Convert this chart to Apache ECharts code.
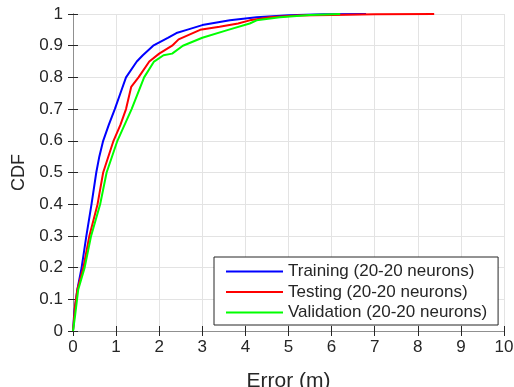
<!DOCTYPE html>
<html>
<head>
<meta charset="utf-8">
<script src="https://cdn.jsdelivr.net/npm/echarts@6/dist/echarts.min.js"></script>
<style>
  html, body { margin: 0; padding: 0; background: #fff; }
  #chart { width: 514px; height: 387px; }
</style>
</head>
<body>
<div id="chart"></div>
<script>
// error (m) / CDF pairs
const trainErr = [0, 0.03, 0.1, 0.2, 0.31, 0.43, 0.54, 0.61, 0.7, 0.83, 0.97, 1.1, 1.23, 1.48, 1.62, 1.86, 2.2, 2.4, 2.64, 3.0, 3.64, 4.26, 5.0, 5.8, 6.8];
const trainCdf = [0, 0.06, 0.13, 0.2, 0.3, 0.4, 0.5, 0.55, 0.6, 0.65, 0.7, 0.75, 0.8, 0.85, 0.87, 0.9, 0.925, 0.94, 0.95, 0.965, 0.98, 0.99, 0.996, 0.999, 1];

const testErr = [0, 0.05, 0.1, 0.24, 0.38, 0.57, 0.7, 0.94, 1.1, 1.23, 1.35, 1.52, 1.77, 2.0, 2.3, 2.45, 2.95, 3.4, 3.83, 4.1, 4.57, 5.2, 6.0, 7.0, 8.38];
const testCdf = [0, 0.08, 0.13, 0.2, 0.3, 0.4, 0.5, 0.6, 0.65, 0.7, 0.77, 0.8, 0.85, 0.875, 0.9, 0.92, 0.95, 0.96, 0.97, 0.98, 0.99, 0.995, 0.997, 0.999, 1];

const valErr = [0, 0.05, 0.12, 0.27, 0.42, 0.63, 0.78, 1.03, 1.36, 1.65, 1.88, 2.1, 2.3, 2.55, 3.0, 3.6, 4.1, 4.26, 4.8, 5.5, 6.2];
const valCdf = [0, 0.05, 0.13, 0.2, 0.3, 0.4, 0.5, 0.6, 0.7, 0.8, 0.85, 0.87, 0.875, 0.9, 0.925, 0.95, 0.97, 0.98, 0.99, 0.997, 1];

const seriesNames = ['Training (20-20 neurons)', 'Testing (20-20 neurons)', 'Validation (20-20 neurons)'];
const seriesColors = ['#0000ff', '#ff0000', '#00ff00'];

const zip = (xs, ys) => xs.map((x, i) => [x, ys[i]]);

const FONT = 'Liberation Sans, Arial, sans-serif';
const TXT = '#262626';

const chart = echarts.init(document.getElementById('chart'));

const mkLine = (name, color, data) => ({
    name: name,
    type: 'line',
    data: data,
    showSymbol: false,
    symbol: 'none',
    lineStyle: { color: color, width: 2 },
    itemStyle: { color: color },
    animation: false
});

const option = {
    animation: false,
    grid: { left: 73, right: 10, top: 14, bottom: 56, containLabel: false, outerBoundsMode: 'none' },
    legend: {
        orient: 'vertical',
        left: 214,
        top: 257,
        padding: [6, 11, 4, 12],
        itemWidth: 57,
        itemHeight: 2,
        itemGap: 3.5,
        icon: 'rect',
        backgroundColor: '#fff',
        borderColor: '#262626',
        borderWidth: 1,
        textStyle: { fontFamily: FONT, fontSize: 17, color: TXT, lineHeight: 17 },
        data: seriesNames
    },
    xAxis: [
        {
            type: 'value',
            min: 0, max: 10, interval: 1,
            name: 'Error (m)',
            nameLocation: 'middle',
            nameGap: 40,
            nameTextStyle: { fontFamily: FONT, fontSize: 21, color: TXT },
            axisLine: { lineStyle: { color: '#404040' } },
            axisTick: { inside: true, length: 5, lineStyle: { color: '#262626' } },
            axisLabel: { fontFamily: FONT, fontSize: 17, color: TXT, margin: 8 },
            splitLine: { lineStyle: { color: '#e3e3e3' } }
        },
        {
            type: 'value',
            position: 'top',
            min: 0, max: 10, interval: 1,
            axisLine: { show: true, lineStyle: { color: '#909090' } },
            axisTick: { inside: true, length: 5, lineStyle: { color: '#262626' } },
            axisLabel: { show: false },
            splitLine: { show: false }
        }
    ],
    yAxis: [
        {
            type: 'value',
            min: 0, max: 1, interval: 0.1,
            name: 'CDF',
            nameLocation: 'middle',
            nameGap: 45,
            nameTextStyle: { fontFamily: FONT, fontSize: 18, color: TXT },
            axisLine: { show: true, lineStyle: { color: '#808080' } },
            axisTick: { show: true, inside: true, length: 5, lineStyle: { color: '#262626' } },
            axisLabel: {
                fontFamily: FONT, fontSize: 17, color: TXT, margin: 10,
                formatter: v => String(+v.toFixed(1))
            },
            splitLine: { lineStyle: { color: '#e3e3e3' } }
        },
        {
            type: 'value',
            position: 'right',
            min: 0, max: 1, interval: 0.1,
            axisLine: { show: true, lineStyle: { color: '#909090' } },
            axisTick: { show: true, inside: true, length: 5, lineStyle: { color: '#262626' } },
            axisLabel: { show: false },
            splitLine: { show: false }
        }
    ],
    series: [
        mkLine(seriesNames[0], seriesColors[0], zip(trainErr, trainCdf)),
        mkLine(seriesNames[1], seriesColors[1], zip(testErr, testCdf)),
        mkLine(seriesNames[2], seriesColors[2], zip(valErr, valCdf))
    ]
};

chart.setOption(option);
</script>
</body>
</html>
